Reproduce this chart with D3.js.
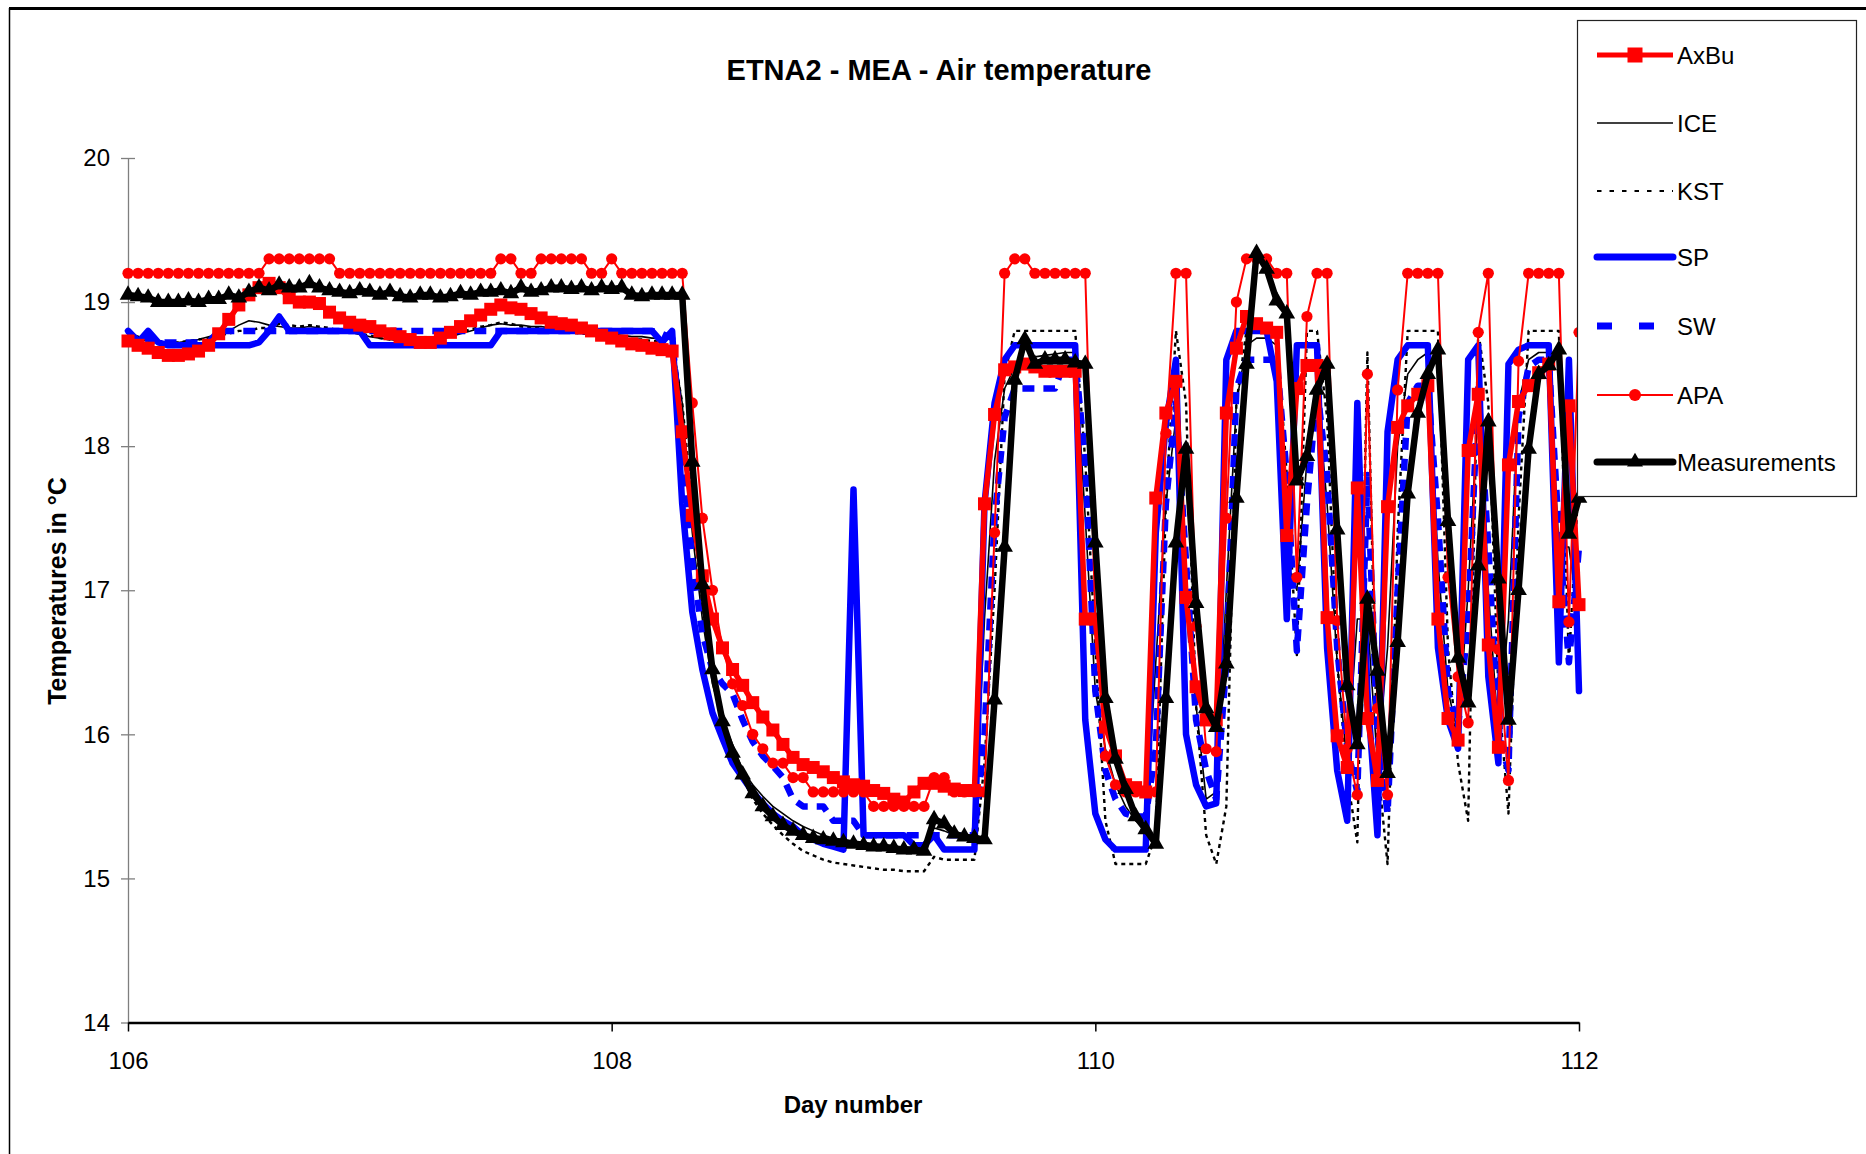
<!DOCTYPE html>
<html><head><meta charset="utf-8">
<script src="https://cdn.jsdelivr.net/npm/d3@7"></script>
<style>body{margin:0;background:#fff;} svg{display:block;font-family:"Liberation Sans",Arial,sans-serif;}</style>
</head><body>
<svg id="chart" width="1866" height="1154"></svg>
<script>
const chartTitle = "ETNA2 - MEA - Air temperature";
const xTitle = "Day number";
const yTitle = "Temperatures in °C";
const xTicks = [106, 108, 110, 112];
const yTicks = [14, 15, 16, 17, 18, 19, 20];
const startDay = 106;
const stepsPerDay = 24; // hourly values

const AxBu = [18.73,18.7,18.68,18.65,18.63,18.63,18.64,18.66,18.7,18.78,
18.88,18.98,19.05,19.1,19.13,19.1,19.03,19.0,19.0,18.99,
18.93,18.89,18.86,18.84,18.83,18.8,18.78,18.76,18.74,18.72,
18.72,18.75,18.79,18.83,18.87,18.91,18.95,18.98,18.96,18.95,
18.92,18.89,18.86,18.85,18.84,18.82,18.8,18.77,18.75,18.73,
18.71,18.7,18.68,18.67,18.66,18.1,17.52,17.1,16.8,16.6,
16.45,16.34,16.22,16.12,16.03,15.93,15.84,15.79,15.77,15.74,
15.7,15.67,15.65,15.64,15.61,15.59,15.55,15.53,15.6,15.66,
15.66,15.64,15.62,15.61,15.61,17.6,18.22,18.53,18.55,18.57,
18.55,18.52,18.52,18.52,18.52,16.8,16.8,16.05,15.85,15.65,
15.63,15.6,17.64,18.23,18.45,16.95,16.33,16.1,16.1,18.23,
18.68,18.9,18.85,18.82,18.79,17.38,18.4,18.56,18.56,16.81,
15.99,15.77,17.71,16.11,15.68,17.58,18.13,18.28,18.36,18.42,
16.8,16.11,15.96,17.97,18.36,16.62,15.91,17.87,18.31,18.42,
18.51,18.57,16.92,18.28,16.9];

const ICE = [18.76,18.74,18.73,18.72,18.72,18.72,18.73,18.74,18.76,18.78,
18.8,18.84,18.87,18.86,18.84,18.83,18.82,18.82,18.83,18.82,
18.8,18.8,18.79,18.78,18.76,18.75,18.74,18.73,18.73,18.72,
18.73,18.74,18.76,18.78,18.8,18.82,18.84,18.85,18.84,18.84,
18.83,18.83,18.82,18.82,18.81,18.8,18.8,18.79,18.78,18.77,
18.76,18.76,18.75,18.75,18.74,18.3,17.4,16.8,16.35,16.1,
15.93,15.75,15.65,15.57,15.5,15.45,15.4,15.36,15.33,15.3,
15.28,15.27,15.26,15.25,15.24,15.23,15.22,15.22,15.21,15.21,
15.35,15.33,15.3,15.29,15.28,16.8,17.9,18.4,18.55,18.6,
18.62,18.63,18.64,18.65,18.65,17.5,16.3,15.9,15.65,15.5,
15.4,15.35,16.5,17.6,18.2,17.0,16.2,15.55,15.6,17.0,
18.3,18.7,18.75,18.75,18.7,17.2,17.0,17.9,18.4,17.6,
16.5,15.8,16.8,16.8,15.8,16.6,18.0,18.5,18.6,18.65,
17.2,16.3,16.0,17.0,18.3,17.0,16.0,16.8,18.3,18.6,
18.65,18.65,17.3,17.3,16.8];

const KST = [18.78,18.76,18.74,18.72,18.72,18.72,18.73,18.74,18.75,18.77,
18.78,18.8,18.8,18.82,18.82,18.85,18.84,18.83,18.84,18.83,
18.82,18.8,18.79,18.78,18.77,18.75,18.74,18.73,18.72,18.72,
18.73,18.75,18.77,18.79,18.81,18.83,18.84,18.86,18.85,18.83,
18.82,18.82,18.8,18.8,18.79,18.78,18.78,18.77,18.76,18.75,
18.74,18.74,18.73,18.73,18.72,18.3,17.6,16.9,16.4,16.05,
15.85,15.7,15.55,15.45,15.37,15.3,15.24,15.19,15.16,15.13,
15.11,15.1,15.09,15.08,15.07,15.06,15.06,15.05,15.05,15.05,
15.15,15.13,15.13,15.13,15.13,15.8,17.0,18.5,18.8,18.8,
18.8,18.8,18.8,18.8,18.8,17.9,16.6,15.4,15.1,15.1,
15.1,15.1,15.3,17.6,18.8,18.3,16.2,15.3,15.1,15.5,
18.3,18.8,18.8,18.8,18.8,17.8,16.55,18.8,18.8,18.2,
16.5,15.7,15.25,18.65,15.8,15.1,17.4,18.8,18.8,18.8,
18.8,16.6,15.8,15.4,18.8,18.3,16.3,15.45,17.5,18.8,
18.8,18.8,18.8,16.5,17.8];

const SP = [18.8,18.72,18.8,18.72,18.7,18.7,18.7,18.7,18.7,18.7,
18.7,18.7,18.7,18.72,18.8,18.9,18.8,18.8,18.8,18.8,
18.8,18.8,18.8,18.8,18.7,18.7,18.7,18.7,18.7,18.7,
18.7,18.7,18.7,18.7,18.7,18.7,18.7,18.8,18.8,18.8,
18.8,18.8,18.8,18.8,18.8,18.8,18.8,18.8,18.8,18.8,
18.8,18.8,18.8,18.72,18.8,17.6,16.85,16.45,16.15,15.97,
15.8,15.7,15.6,15.52,15.45,15.4,15.36,15.3,15.27,15.24,
15.22,15.2,17.7,15.3,15.3,15.3,15.3,15.3,15.23,15.23,
15.3,15.2,15.2,15.2,15.2,17.6,18.3,18.6,18.7,18.7,
18.7,18.7,18.7,18.7,18.7,16.1,15.45,15.27,15.2,15.2,
15.2,15.2,17.4,18.15,18.6,16.0,15.65,15.5,15.52,18.6,
18.8,18.8,18.8,18.8,18.45,16.8,18.7,18.7,18.7,16.6,
15.75,15.4,18.3,16.3,15.3,18.1,18.6,18.7,18.7,18.7,
16.6,16.1,15.9,18.6,18.7,16.4,15.8,18.57,18.67,18.7,
18.7,18.7,16.5,18.6,16.3];

const SW = [18.8,18.73,18.75,18.72,18.72,18.72,18.72,18.72,18.72,18.8,
18.8,18.8,18.8,18.8,18.8,18.8,18.8,18.8,18.8,18.8,
18.8,18.8,18.8,18.8,18.8,18.8,18.8,18.8,18.8,18.8,
18.8,18.8,18.8,18.8,18.8,18.8,18.8,18.8,18.8,18.8,
18.8,18.8,18.8,18.8,18.8,18.8,18.8,18.8,18.8,18.8,
18.8,18.8,18.8,18.78,18.75,18.0,17.2,16.7,16.45,16.35,
16.28,16.1,15.95,15.85,15.78,15.7,15.55,15.5,15.5,15.5,
15.4,15.4,15.4,15.3,15.3,15.3,15.3,15.3,15.3,15.3,
15.3,15.3,15.3,15.3,15.3,16.0,17.5,18.2,18.4,18.4,
18.4,18.4,18.4,18.6,18.6,17.9,16.3,15.75,15.55,15.45,
15.43,15.43,15.9,17.6,18.3,17.2,16.1,15.75,15.55,16.5,
18.4,18.6,18.6,18.6,18.6,17.8,16.58,17.6,18.4,17.8,
16.6,15.9,15.6,17.8,16.0,15.45,17.0,18.3,18.42,18.42,
17.5,16.3,16.05,16.8,18.4,17.3,16.0,15.75,18.2,18.55,
18.6,18.6,17.4,16.5,17.3];

const APA = [19.2,19.2,19.2,19.2,19.2,19.2,19.2,19.2,19.2,19.2,
19.2,19.2,19.2,19.2,19.3,19.3,19.3,19.3,19.3,19.3,
19.3,19.2,19.2,19.2,19.2,19.2,19.2,19.2,19.2,19.2,
19.2,19.2,19.2,19.2,19.2,19.2,19.2,19.3,19.3,19.2,
19.2,19.3,19.3,19.3,19.3,19.3,19.2,19.2,19.3,19.2,
19.2,19.2,19.2,19.2,19.2,19.2,18.3,17.5,17.0,16.6,
16.35,16.2,16.0,15.9,15.8,15.8,15.7,15.7,15.6,15.6,
15.6,15.6,15.6,15.6,15.5,15.5,15.5,15.5,15.5,15.5,
15.7,15.7,15.6,15.6,15.6,15.6,17.4,19.2,19.3,19.3,
19.2,19.2,19.2,19.2,19.2,19.2,16.8,15.85,15.65,15.6,
15.6,15.6,15.6,18.09,19.2,19.2,16.75,15.9,15.88,17.5,
19.0,19.3,19.3,19.3,19.2,19.2,17.09,18.9,19.2,19.2,
16.79,15.9,15.58,18.5,16.18,15.58,18.39,19.2,19.2,19.2,
19.2,17.09,16.4,16.08,18.79,19.2,16.59,15.68,18.59,19.2,
19.2,19.2,19.2,16.78,18.79];

const Measurements = [19.05,19.04,19.03,19.0,19.0,19.0,19.01,19.0,19.02,19.02,
19.05,19.03,19.07,19.1,19.08,19.12,19.1,19.1,19.13,19.1,
19.08,19.07,19.06,19.08,19.07,19.05,19.07,19.04,19.03,19.05,
19.05,19.03,19.04,19.06,19.05,19.07,19.07,19.08,19.06,19.1,
19.07,19.08,19.1,19.1,19.09,19.1,19.08,19.1,19.09,19.1,
19.05,19.04,19.05,19.05,19.05,19.05,17.89,17.04,16.45,16.09,
15.87,15.72,15.59,15.5,15.43,15.37,15.33,15.3,15.28,15.27,
15.26,15.25,15.24,15.23,15.22,15.22,15.21,15.2,15.2,15.19,
15.41,15.38,15.31,15.29,15.28,15.27,16.24,17.3,18.46,18.74,
18.57,18.6,18.6,18.6,18.58,18.57,17.33,16.25,15.83,15.62,
15.43,15.34,15.24,16.25,17.33,17.98,16.91,16.18,16.05,16.49,
17.64,18.57,19.34,19.23,19.01,18.92,17.76,17.93,18.39,18.57,
17.42,16.34,15.93,16.94,16.44,15.73,16.64,17.67,18.23,18.5,
18.67,17.48,16.53,16.22,17.17,18.17,17.08,16.1,17.0,17.98,
18.5,18.56,18.67,17.39,17.64];

const seriesNames = ["AxBu", "ICE", "KST", "SP", "SW", "APA", "Measurements"];

const W = 1866, H = 1154;
const svg = d3.select("#chart");
svg.append("rect").attr("width", W).attr("height", H).attr("fill", "#fff");

// outer chart frame
svg.append("line").attr("x1", 9).attr("x2", W).attr("y1", 8.5).attr("y2", 8.5)
  .attr("stroke", "#000").attr("stroke-width", 3);
svg.append("line").attr("x1", 9.5).attr("x2", 9.5).attr("y1", 8).attr("y2", H)
  .attr("stroke", "#000").attr("stroke-width", 1.5);

const x = d3.scaleLinear().domain([106, 112]).range([128, 1579]);
const y = d3.scaleLinear().domain([14, 20]).range([1022.5, 158]);
const dayOf = i => startDay + i / stepsPerDay;

// Y axis (cross ticks)
const yAxis = svg.append("g").attr("transform", "translate(128,0)")
  .call(d3.axisLeft(y).tickValues(yTicks).tickSizeInner(7).tickSizeOuter(0).tickPadding(11).tickFormat(d3.format("d")));
yAxis.select(".domain").attr("stroke", "#7f7f7f").attr("stroke-width", 1.3);
yAxis.selectAll(".tick line").attr("stroke", "#7f7f7f").attr("stroke-width", 1.3).attr("x2", -7);
yAxis.selectAll(".tick").append("line").attr("x1", 0).attr("x2", 7).attr("stroke", "#7f7f7f").attr("stroke-width", 1.3);
yAxis.selectAll("text").attr("font-size", 24).attr("fill", "#000").attr("font-family", "Liberation Sans, Arial, sans-serif");

// X axis
const xAxis = svg.append("g").attr("transform", "translate(0,1022.5)")
  .call(d3.axisBottom(x).tickValues(xTicks).tickSizeInner(9).tickSizeOuter(0).tickPadding(20).tickFormat(d3.format("d")));
xAxis.select(".domain").attr("stroke", "#000").attr("stroke-width", 2.6);
xAxis.selectAll(".tick line").attr("stroke", "#000").attr("stroke-width", 1.5);
xAxis.selectAll("text").attr("font-size", 24).attr("fill", "#000").attr("font-family", "Liberation Sans, Arial, sans-serif");

// titles
svg.append("text").attr("x", 939).attr("y", 80).attr("text-anchor", "middle")
  .attr("font-size", 29).attr("font-weight", "bold").text(chartTitle);
svg.append("text").attr("transform", "translate(66,591) rotate(-90)").attr("text-anchor", "middle")
  .attr("font-size", 25).attr("font-weight", "bold").text(yTitle);
svg.append("text").attr("x", 853).attr("y", 1113).attr("text-anchor", "middle")
  .attr("font-size", 24).attr("font-weight", "bold").text(xTitle);

const line = d3.line().x((d, i) => x(dayOf(i))).y(d => y(d));
const plot = svg.append("g");

function drawLine(data, color, width, dash) {
  plot.append("path").datum(data).attr("d", line).attr("fill", "none")
    .attr("stroke", color).attr("stroke-width", width)
    .attr("stroke-linejoin", "round").attr("stroke-linecap", dash ? "butt" : "round")
    .attr("stroke-dasharray", dash || null);
}

// draw order
drawLine(ICE, "#000", 1.6);
drawLine(KST, "#000", 2.4, "4,4");
drawLine(SP, "#0000ff", 6.5);
drawLine(SW, "#0000ff", 6.5, "12,9");
drawLine(AxBu, "#ff0000", 5.5);
plot.append("g").selectAll("rect").data(AxBu).join("rect")
  .attr("x", (d, i) => x(dayOf(i)) - 6.5).attr("y", d => y(d) - 6.5)
  .attr("width", 13).attr("height", 13).attr("fill", "#ff0000");
drawLine(APA, "#ff0000", 2);
plot.append("g").selectAll("circle").data(APA).join("circle")
  .attr("cx", (d, i) => x(dayOf(i))).attr("cy", d => y(d)).attr("r", 5.6).attr("fill", "#ff0000");
drawLine(Measurements, "#000", 6.5);
const tri = d3.symbol(d3.symbolTriangle, 120);
plot.append("g").selectAll("path").data(Measurements).join("path")
  .attr("d", tri).attr("transform", (d, i) => `translate(${x(dayOf(i))},${y(d)})`).attr("fill", "#000");

// legend
const lg = svg.append("g");
lg.append("rect").attr("x", 1577.5).attr("y", 20.5).attr("width", 279).attr("height", 476)
  .attr("fill", "#fff").attr("stroke", "#222").attr("stroke-width", 1.2);
const legendY = [55, 123, 191, 257, 326, 395, 462];
const lx1 = 1597, lx2 = 1673, lmid = 1635;
const styles = {
  AxBu: {c: "#ff0000", w: 5, marker: "square"},
  ICE: {c: "#000", w: 1.5},
  KST: {c: "#000", w: 2.2, dash: "4.5,8"},
  SP: {c: "#0000ff", w: 7, cap: "round"},
  SW: {c: "#0000ff", w: 7, dash: "15,27"},
  APA: {c: "#ff0000", w: 2, marker: "circle"},
  Measurements: {c: "#000", w: 7, cap: "round", marker: "triangle"}
};
seriesNames.forEach((name, k) => {
  const s = styles[name], ly = legendY[k];
  lg.append("line").attr("x1", lx1).attr("x2", lx2).attr("y1", ly).attr("y2", ly)
    .attr("stroke", s.c).attr("stroke-width", s.w).attr("stroke-linecap", s.cap || "butt")
    .attr("stroke-dasharray", s.dash || null);
  if (s.marker === "square") lg.append("rect").attr("x", lmid - 7.5).attr("y", ly - 7.5).attr("width", 15).attr("height", 15).attr("fill", s.c);
  if (s.marker === "circle") lg.append("circle").attr("cx", lmid).attr("cy", ly).attr("r", 6).attr("fill", s.c);
  if (s.marker === "triangle") lg.append("path").attr("d", d3.symbol(d3.symbolTriangle, 110)).attr("transform", `translate(${lmid},${ly})`).attr("fill", s.c);
  lg.append("text").attr("x", 1677).attr("y", ly + 8.5).attr("font-size", 24).attr("fill", "#000").text(name);
});
</script>
</body></html>
